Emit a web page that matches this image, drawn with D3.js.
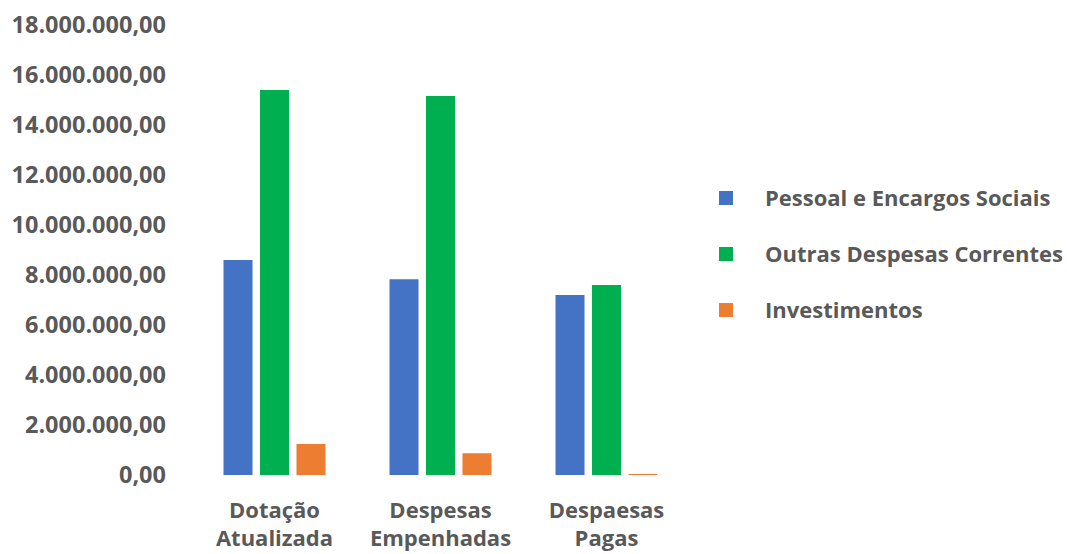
<!DOCTYPE html>
<html>
<head>
<meta charset="utf-8">
<script src="https://cdn.jsdelivr.net/npm/d3@7"></script>
<style>
  body { margin: 0; background: #fff; }
  text { font-family: "Open Sans", sans-serif; font-weight: 700; fill: #595959; }
</style>
</head>
<body>
<div class="canvas"></div>
<script>
const categories = [["Dotação", "Atualizada"], ["Despesas", "Empenhadas"], ["Despaesas", "Pagas"]]
const seriesNames = ["Pessoal e Encargos Sociais", "Outras Despesas Correntes", "Investimentos"]
const pessoal = [8600000, 7830000, 7200000]
const outras = [15400000, 15160000, 7600000]
const investimentos = [1240000, 870000, 40000]
const yTicks = [0, 2000000, 4000000, 6000000, 8000000, 10000000, 12000000, 14000000, 16000000, 18000000]
const colors = ["#4472C4", "#00B050", "#ED7D31"]

const width = 1067
const height = 554
const series = [pessoal, outras, investimentos]

const svg = d3.select(".canvas")
    .append("svg")
    .attr("width", width)
    .attr("height", height)

const y = d3.scaleLinear().domain([0, 18000000]).range([475, 25])

const x0 = d3.scaleBand()
    .domain(d3.range(categories.length))
    .range([191.5, 689.5])
    .padding(0)

const x1 = d3.scaleBand()
    .domain(d3.range(series.length))
    .range([32, 134])
    .paddingInner(0.205)
    .paddingOuter(0)

const ptBR = d3.formatLocale({decimal: ",", thousands: ".", grouping: [3], currency: ["R$", ""]})
const fmt = ptBR.format(",.2f")

// y axis labels only (no line, no grid)
const yAxis = svg.append("g")
    .attr("transform", "translate(166,0)")
    .call(d3.axisLeft(y).tickValues(yTicks).tickFormat(fmt).tickSize(0).tickPadding(0))
yAxis.select(".domain").remove()
yAxis.selectAll("text")
    .attr("fill", "#595959")
    .style("font-size", "23.5px")
    .style("font-family", "'Open Sans', sans-serif")
    .style("font-weight", 700)

// bars
const groups = svg.append("g").selectAll("g")
    .data(categories)
    .join("g")
    .attr("transform", (d, i) => `translate(${x0(i)},0)`)

groups.selectAll("rect")
    .data((d, i) => series.map((s, j) => ({s: j, v: s[i]})))
    .join("rect")
    .attr("x", d => x1(d.s))
    .attr("width", x1.bandwidth())
    .attr("y", d => y(d.v))
    .attr("height", d => Math.max(1, y(0) - y(d.v)))
    .attr("fill", d => colors[d.s])

// category labels
groups.append("text")
    .attr("x", x0.bandwidth() / 2)
    .attr("text-anchor", "middle")
    .style("font-size", "22px")
    .selectAll("tspan")
    .data(d => d)
    .join("tspan")
    .attr("x", x0.bandwidth() / 2)
    .attr("y", (d, i) => 518 + i * 28)
    .text(d => d)

// legend
const legend = svg.append("g").selectAll("g")
    .data(seriesNames)
    .join("g")
    .attr("transform", (d, i) => `translate(719,${198 + i * 56})`)

legend.append("rect")
    .attr("x", 0)
    .attr("y", -7)
    .attr("width", 14)
    .attr("height", 14)
    .attr("fill", (d, i) => colors[i])

legend.append("text")
    .attr("x", 46)
    .attr("dy", "0.35em")
    .style("font-size", "22px")
    .text(d => d)
</script>
</body>
</html>
